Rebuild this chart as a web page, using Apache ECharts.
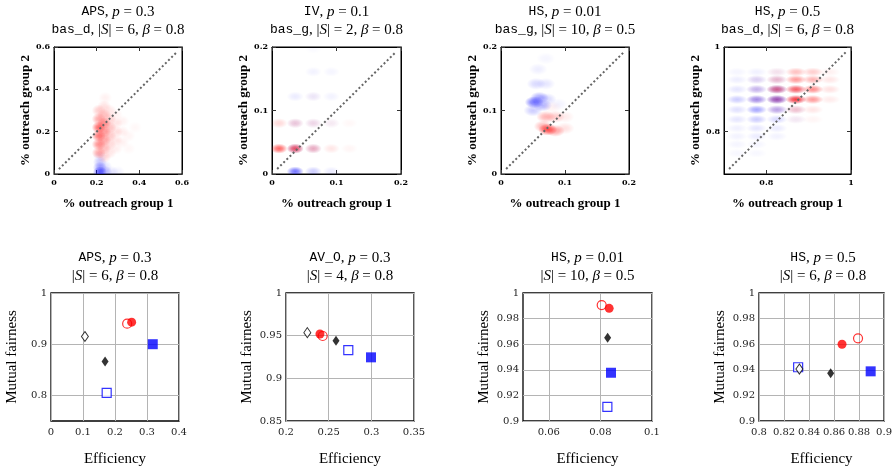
<!DOCTYPE html>
<html><head><meta charset="utf-8">
<script src="https://cdn.jsdelivr.net/npm/echarts@6/dist/echarts.min.js"></script>
<style>html,body{margin:0;padding:0;background:#fff}#c{width:895px;height:468px}</style>
</head><body><div id="c"></div><script>
// ---------- titles ----------
const topTitleA = ['{m|APS}, {i|p} = 0.3', '{m|IV}, {i|p} = 0.1', '{m|HS}, {i|p} = 0.01', '{m|HS}, {i|p} = 0.5'];
const topTitleB = ['{m|bas_d}, |{i|S}| = 6, {i|β} = 0.8', '{m|bas_g}, |{i|S}| = 2, {i|β} = 0.8', '{m|bas_g}, |{i|S}| = 10, {i|β} = 0.5', '{m|bas_d}, |{i|S}| = 6, {i|β} = 0.8'];
const botTitleA = ['{m|APS}, {i|p} = 0.3', '{m|AV_O}, {i|p} = 0.3', '{m|HS}, {i|p} = 0.01', '{m|HS}, {i|p} = 0.5'];
const botTitleB = ['|{i|S}| = 6, {i|β} = 0.8', '|{i|S}| = 4, {i|β} = 0.8', '|{i|S}| = 10, {i|β} = 0.5', '|{i|S}| = 6, {i|β} = 0.8'];

// ---------- top row axes ----------
const topMin = [0, 0, 0, 0.7];
const topMax = [0.6, 0.2, 0.2, 1];
const topTicks = [[0, 0.2, 0.4, 0.6], [0, 0.1, 0.2], [0, 0.1, 0.2], [0.8, 1]];

// ---------- top row densities [x, y, intensity] ----------
const apsRed = [[0.21,0.26,0.35],[0.21,0.22,0.6],[0.21,0.18,0.55],[0.21,0.14,0.45],[0.21,0.10,0.35],[0.21,0.30,0.2],
  [0.235,0.24,0.45],[0.235,0.20,0.4],[0.235,0.16,0.35],[0.235,0.12,0.25],[0.235,0.28,0.25],[0.235,0.32,0.12],[0.235,0.08,0.15],
  [0.26,0.22,0.25],[0.26,0.18,0.22],[0.26,0.26,0.18],[0.26,0.14,0.15],[0.26,0.30,0.1],[0.26,0.10,0.1],
  [0.29,0.20,0.12],[0.29,0.24,0.1],[0.29,0.16,0.1],[0.29,0.28,0.06],[0.29,0.12,0.07],
  [0.32,0.20,0.07],[0.32,0.15,0.06],[0.32,0.25,0.05],[0.35,0.18,0.04],[0.35,0.12,0.03],[0.24,0.36,0.06],[0.38,0.22,0.03]];
const apsBlue = [[0.215,0.008,0.6],[0.215,0.03,0.35],[0.215,0.055,0.2],[0.24,0.01,0.25],[0.24,0.035,0.12],[0.27,0.01,0.1],[0.30,0.01,0.05],[0.215,0.08,0.08]];
const ivRed = [[0.011,0.04,0.6],[0.036,0.04,0.6],[0.064,0.04,0.25],[0.092,0.04,0.1],[0.12,0.04,0.04],
  [0.011,0.08,0.15],[0.036,0.08,0.15],[0.064,0.08,0.1],[0.092,0.08,0.05],[0.12,0.08,0.03],[0.064,0.122,0.03]];
const ivBlue = [[0.036,0.04,0.25],[0.064,0.04,0.12],[0.036,0.08,0.1],[0.064,0.08,0.08],[0.092,0.08,0.04],
  [0.036,0.122,0.08],[0.064,0.122,0.08],[0.092,0.122,0.05],[0.064,0.161,0.05],[0.092,0.161,0.04],[0.064,0.197,0.02],
  [0.036,0.004,0.55],[0.064,0.004,0.2],[0.092,0.004,0.08]];
const hs01Red = [[0.07,0.09,0.3],[0.085,0.09,0.2],[0.073,0.07,0.65],[0.085,0.068,0.35],[0.066,0.075,0.3],[0.10,0.072,0.12],[0.10,0.09,0.08],[0.08,0.105,0.05]];
const hs01Blue = [[0.052,0.113,0.55],[0.06,0.12,0.35],[0.065,0.108,0.3],[0.05,0.10,0.2],[0.072,0.118,0.15],
  [0.055,0.142,0.15],[0.07,0.142,0.1],[0.058,0.165,0.07],[0.07,0.182,0.04],[0.09,0.11,0.05]];
const hs05Red = [[0.825,0.941,0.08],[0.87,0.941,0.25],[0.91,0.941,0.2],[0.95,0.941,0.06],
  [0.777,0.923,0.05],[0.825,0.923,0.2],[0.87,0.923,0.4],[0.91,0.923,0.3],[0.95,0.923,0.1],
  [0.777,0.9,0.08],[0.825,0.9,0.45],[0.87,0.9,0.6],[0.91,0.9,0.45],[0.95,0.9,0.12],
  [0.777,0.876,0.1],[0.825,0.876,0.3],[0.87,0.876,0.75],[0.91,0.876,0.4],[0.95,0.876,0.08],
  [0.825,0.852,0.1],[0.87,0.852,0.2],[0.91,0.852,0.1],[0.87,0.829,0.05],[0.91,0.829,0.04]];
const hs05Blue = [[0.731,0.941,0.04],[0.777,0.941,0.06],[0.825,0.941,0.05],
  [0.731,0.923,0.07],[0.777,0.923,0.15],[0.825,0.923,0.12],
  [0.731,0.9,0.1],[0.777,0.9,0.25],[0.825,0.9,0.35],[0.87,0.9,0.08],
  [0.731,0.876,0.2],[0.777,0.876,0.4],[0.825,0.876,0.55],[0.87,0.876,0.1],
  [0.731,0.852,0.12],[0.777,0.852,0.35],[0.825,0.852,0.3],[0.87,0.852,0.08],
  [0.731,0.829,0.1],[0.777,0.829,0.2],[0.825,0.829,0.15],[0.87,0.829,0.05],
  [0.731,0.808,0.06],[0.777,0.808,0.1],[0.825,0.808,0.08],
  [0.731,0.789,0.05],[0.777,0.789,0.08],[0.825,0.789,0.05],
  [0.731,0.77,0.04],[0.777,0.77,0.04],[0.731,0.749,0.03],[0.777,0.749,0.03]];
const redSets = [apsRed, ivRed, hs01Red, hs05Red];
const blueSets = [apsBlue, ivBlue, hs01Blue, hs05Blue];
const diagonals = [[[0.023,0.023],[0.577,0.577]],[[0.008,0.008],[0.192,0.192]],[[0.008,0.008],[0.192,0.192]],[[0.712,0.712],[0.988,0.988]]];

// ---------- bottom row axes ----------
const botXMin = [0, 0.2, 0.05, 0.8];
const botXMax = [0.4, 0.35, 0.1, 0.9];
const botXTicks = [[0,0.1,0.2,0.3,0.4],[0.2,0.25,0.3,0.35],[0.06,0.08,0.1],[0.8,0.82,0.84,0.86,0.88,0.9]];
const botYMin = [0.75, 0.85, 0.9, 0.9];
const botYMax = [1, 1, 1, 1];
const botYTicks = [[0.8,0.9,1],[0.85,0.9,0.95,1],[0.9,0.92,0.94,0.96,0.98,1],[0.9,0.92,0.94,0.96,0.98,1]];

// ---------- bottom row points (one per panel) [efficiency, mutual fairness] ----------
const openSquare  = [[0.174,0.805],[0.273,0.933],[0.0827,0.911],[0.8313,0.942]];
const fillSquare  = [[0.318,0.900],[0.2996,0.9246],[0.0841,0.9377],[0.8893,0.9388]];
const openDiamond = [[0.106,0.915],[0.225,0.9535],null,[0.8323,0.9406]];
const fillDiamond = [[0.169,0.866],[0.2586,0.944],[0.0828,0.965],[0.8573,0.9373]];
const fillCircle  = [[0.252,0.943],[0.2398,0.952],[0.0834,0.988],[0.8664,0.960]];
const openCircle  = [[0.238,0.940],[0.243,0.9496],[0.0805,0.9906],[0.8792,0.9646]];

// ---------- layout ----------
const topGrids = [{left:54,top:47,width:128,height:127},{left:272,top:47,width:129,height:127},{left:501,top:47,width:128,height:127},{left:724,top:47,width:127,height:127}];
const botGrids = [{left:51,top:293,width:128,height:128},{left:286,top:293,width:128,height:128},{left:523,top:293,width:129,height:128},{left:759,top:293,width:128,height:128}];
const blobSize = [[14,12],[17,10],[19,12],[21,9]];

const SERIF = 'Liberation Serif';
const MONO = 'Liberation Mono';
const rich = {m:{fontFamily:MONO,fontSize:13,fill:'#000'}, i:{fontFamily:SERIF,fontStyle:'italic',fontSize:15,fill:'#000'}};

const grid = [], xAxis = [], yAxis = [], series = [], graphic = [];

function heat(data, rgb, i) {
  const w = blobSize[i][0], h = blobSize[i][1];
  return {type:'custom', xAxisIndex:2*i, yAxisIndex:2*i, clip:true, silent:true, data:data,
    encode:{x:0, y:1},
    renderItem:function(params, api){
      const p = api.coord([api.value(0), api.value(1)]);
      const a = api.value(2);
      return {type:'rect', x:p[0], y:p[1], scaleX:w/h,
        shape:{x:-h/2, y:-h/2, width:h, height:h},
        style:{fill:new echarts.graphic.RadialGradient(0.5,0.5,0.5,[
          {offset:0,color:'rgba('+rgb+','+a+')'},
          {offset:0.4,color:'rgba('+rgb+','+(a*0.75)+')'},
          {offset:1,color:'rgba('+rgb+',0)'}])}};
    }};
}

const tickLbl = {fontFamily:'DejaVu Serif', fontWeight:'bold', fontSize:8, color:'#000'};
for (let i = 0; i < 4; i++) {
  const g = topGrids[i];
  grid.push(Object.assign({show:true, borderColor:'#000', borderWidth:1, containLabel:false}, g));
  const common = {type:'value', min:topMin[i], max:topMax[i], gridIndex:i, splitLine:{show:false},
    axisLine:{show:true, onZero:false, lineStyle:{color:'#000', width:1}},
    axisTick:{show:true, inside:true, length:4, customValues:topTicks[i], lineStyle:{color:'#333', width:1}}};
  xAxis.push(Object.assign({}, common, {position:'bottom',
    axisLabel:{show:true, customValues:topTicks[i], margin:5, ...tickLbl},
    name:'% outreach group 1', nameLocation:'middle', nameGap:23,
    nameTextStyle:{fontFamily:SERIF, fontWeight:'bold', fontSize:13, color:'#000'}}));
  xAxis.push(Object.assign({}, common, {position:'top', axisLabel:{show:false}}));
  yAxis.push(Object.assign({}, common, {position:'left',
    axisLabel:{show:true, customValues:topTicks[i], margin:4, ...tickLbl},
    name:'% outreach group 2', nameLocation:'middle', nameGap:20,
    nameTextStyle:{fontFamily:SERIF, fontWeight:'bold', fontSize:13, color:'#000'}}));
  yAxis.push(Object.assign({}, common, {position:'right', axisLabel:{show:false}}));
  series.push(heat(blueSets[i], '0,0,255', i));
  series.push(heat(redSets[i], '255,0,0', i));
  series.push({type:'line', xAxisIndex:2*i, yAxisIndex:2*i, data:diagonals[i], symbol:'none', silent:true,
    lineStyle:{color:'#666', width:2, type:[2,2.4]}});
  const cx = g.left + g.width/2;
  graphic.push({type:'text', x:cx, y:12, style:{text:topTitleA[i], rich:rich, fontFamily:SERIF, fontSize:15, fill:'#000', align:'center', verticalAlign:'middle'}});
  graphic.push({type:'text', x:cx, y:30, style:{text:topTitleB[i], rich:rich, fontFamily:SERIF, fontSize:15, fill:'#000', align:'center', verticalAlign:'middle'}});
}

const markerDefs = [
  {data:openSquare, symbol:'rect', size:9, style:{color:'#fff', borderColor:'#0000ff', borderWidth:1.2}},
  {data:fillSquare, symbol:'rect', size:10, style:{color:'#0000ff'}},
  {data:openDiamond, symbol:'diamond', size:[7,10], style:{color:'#fff', borderColor:'#000', borderWidth:1}},
  {data:fillDiamond, symbol:'diamond', size:[7,10], style:{color:'#000'}},
  {data:fillCircle, symbol:'circle', size:9, style:{color:'#ff0000'}},
  {data:openCircle, symbol:'circle', size:9, style:{color:'rgba(0,0,0,0)', borderColor:'#ff0000', borderWidth:1.2}}
];
const botLbl = {fontFamily:'DejaVu Serif', fontSize:10, color:'#222'};
for (let i = 0; i < 4; i++) {
  const g = botGrids[i];
  const gi = 4 + i, ai = 8 + i;
  grid.push(Object.assign({show:true, borderColor:'#000', borderWidth:1.3, containLabel:false}, g));
  xAxis.push({type:'value', gridIndex:gi, min:botXMin[i], max:botXMax[i], position:'bottom',
    axisLine:{show:false}, axisTick:{show:false, customValues:botXTicks[i]},
    axisLabel:{customValues:botXTicks[i], margin:6, ...botLbl},
    splitLine:{show:true, lineStyle:{color:'#b4b4b4', width:1}},
    name:'Efficiency', nameLocation:'middle', nameGap:31, nameTextStyle:{fontFamily:SERIF, fontSize:15, color:'#000'}});
  yAxis.push({type:'value', gridIndex:gi, min:botYMin[i], max:botYMax[i], position:'left',
    axisLine:{show:false}, axisTick:{show:false, customValues:botYTicks[i]},
    axisLabel:{customValues:botYTicks[i], margin:4, ...botLbl},
    splitLine:{show:true, lineStyle:{color:'#b4b4b4', width:1}},
    name:'Mutual fairness', nameLocation:'middle', nameGap:31, nameTextStyle:{fontFamily:SERIF, fontSize:15, color:'#000'}});
  markerDefs.forEach(function(md){
    const pt = md.data[i];
    if (!pt) return;
    series.push({type:'scatter', xAxisIndex:ai, yAxisIndex:ai, data:[pt], symbol:md.symbol, symbolSize:md.size,
      itemStyle:md.style, silent:true});
  });
  const cx = g.left + g.width/2;
  graphic.push({type:'text', x:cx, y:258, style:{text:botTitleA[i], rich:rich, fontFamily:SERIF, fontSize:15, fill:'#000', align:'center', verticalAlign:'middle'}});
  graphic.push({type:'text', x:cx, y:276, style:{text:botTitleB[i], rich:rich, fontFamily:SERIF, fontSize:15, fill:'#000', align:'center', verticalAlign:'middle'}});
}

const chart = echarts.init(document.getElementById('c'));
chart.setOption({animation:false, backgroundColor:'#fff', grid:grid, xAxis:xAxis, yAxis:yAxis, series:series, graphic:graphic});
</script></body></html>
